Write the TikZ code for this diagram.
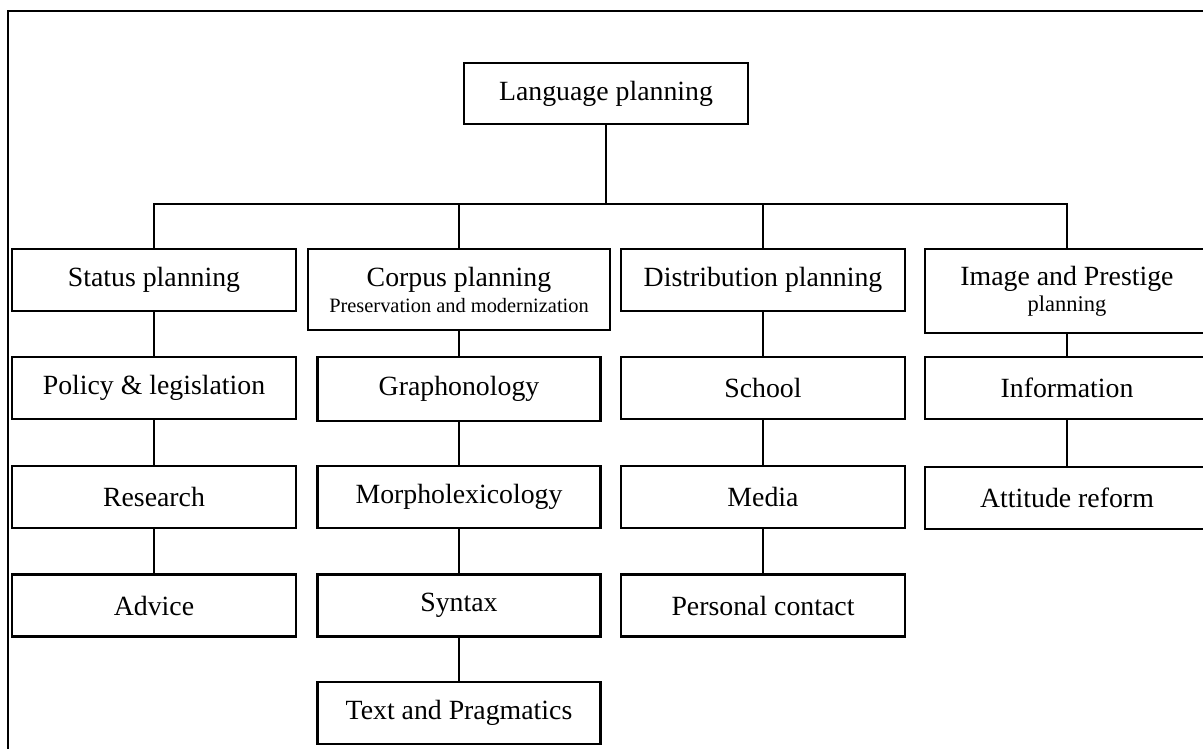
\documentclass[tikz,border=0pt]{standalone}
\usepackage{fontspec}
\setmainfont{Liberation Serif}

\begin{document}
\begin{tikzpicture}[
  x=1pt, y=-1pt,
  planbox/.style={
    draw, line width=2.2pt, fill=white,
    minimum width=284pt, minimum height=62pt,
    align=center, inner sep=0pt,
    font=\fontsize{27.8}{30}\selectfont
  },
  link/.style={line width=1.6pt}
]
\clip (0,0) rectangle (1203,748);

% frame, only top and left edges show
\draw[line width=2.4pt] (8,760) -- (8,11) -- (1215,11);

\node[planbox, minimum height=61pt] (lang) at (606,93.5) {Language planning};

% first level
\node[planbox] (status) at (154,280) {Status planning};
\node[planbox, minimum width=302pt, minimum height=81pt] (corpus) at (459,289.5) {%
  Corpus planning\\[-4pt]
  {\fontsize{20.4}{24}\selectfont Preservation and modernization}};
\node[planbox] (distrib) at (763,280) {Distribution planning};
\node[planbox, minimum height=84pt] (image) at (1067,291) {%
  Image and Prestige\\[-4pt]
  {\fontsize{22.5}{26}\selectfont planning}};

% second level
\node[planbox] (policy) at (154,388) {Policy \& legislation};
\node[planbox, minimum width=283pt, minimum height=64pt] (grapho) at (459,389) {Graphonology};
\node[planbox] (school) at (763,388) {School};
\node[planbox] (info) at (1067,388) {Information};

% third level
\node[planbox] (research) at (154,497) {Research};
\node[planbox, minimum width=283pt] (morpho) at (459,497) {Morpholexicology};
\node[planbox] (media) at (763,497) {Media};
\node[planbox] (attitude) at (1067,498) {Attitude reform};

% fourth level
\node[planbox] (advice) at (154,605.5) {Advice};
\node[planbox, minimum width=283pt] (syntax) at (459,605.5) {Syntax};
\node[planbox] (contact) at (763,605.5) {Personal contact};

% fifth level
\node[planbox, minimum width=283pt] (textprag) at (459,713) {Text and Pragmatics};

% tree lines
\coordinate (bus) at (0,204);
\draw[link] (lang.south) -- (lang.south |- bus);
\draw[link] (status.north) -- (status.north |- bus) -- (image.north |- bus) -- (image.north);
\draw[link] (corpus.north) -- (corpus.north |- bus);
\draw[link] (distrib.north) -- (distrib.north |- bus);

\draw[link] (status) -- (policy) -- (research) -- (advice);
\draw[link] (corpus) -- (grapho) -- (morpho) -- (syntax) -- (textprag);
\draw[link] (distrib) -- (school) -- (media) -- (contact);
\draw[link] (image) -- (info) -- (attitude);

\end{tikzpicture}
\end{document}
